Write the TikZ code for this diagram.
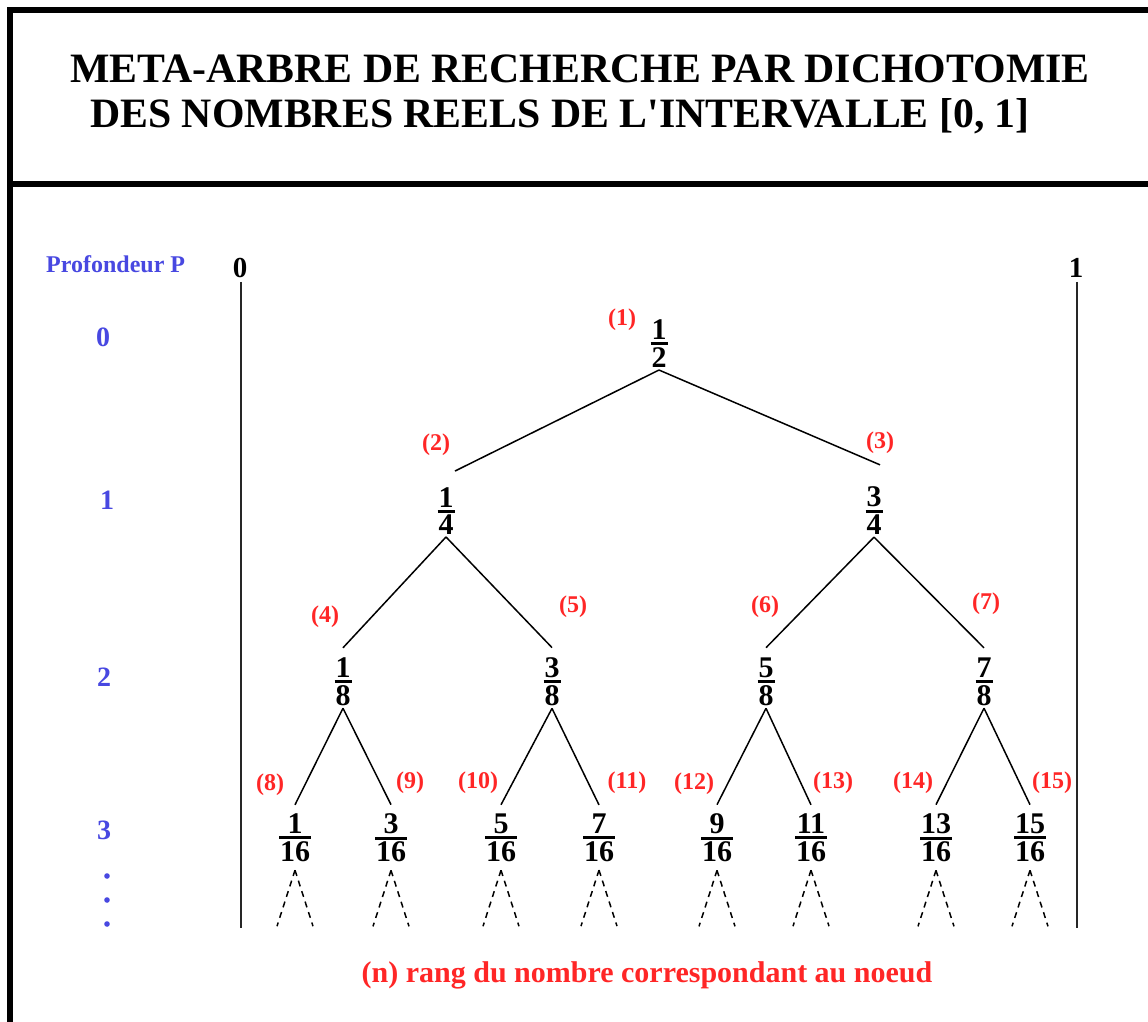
\documentclass[tikz,border=0pt]{standalone}
\usepackage{fontspec}
\setmainfont{Liberation Serif}[Ligatures=TeXOff]
\usetikzlibrary{calc}
\definecolor{lbl}{RGB}{255,38,38}
\definecolor{dep}{RGB}{72,72,225}
\newcommand\myfr[2]{\vbox{\halign{\hfil\kern1pt##\kern1pt\hfil\cr #1\cr\noalign{\kern2.5pt\hrule height 3pt\kern2.5pt}#2\cr}}}
\begin{document}
\begin{tikzpicture}[x=1pt,y=-1pt,
  frac/.style={inner sep=0pt, font=\fontsize{30}{32}\selectfont\bfseries},
  rank/.style={text=lbl, inner sep=0pt, font=\fontsize{24}{26}\selectfont\bfseries},
  depthlbl/.style={text=dep, inner sep=0pt, font=\fontsize{28}{30}\selectfont\bfseries},
  titlefont/.style={anchor=base west, inner sep=0pt, font=\fontsize{41.8}{49}\selectfont\bfseries},
  bound/.style={inner sep=0pt, font=\fontsize{29}{31}\selectfont\bfseries},
  treeedge/.style={line width=1.5pt},
  subedge/.style={line width=1.5pt, dash pattern=on 6pt off 5pt},
  vline/.style={line width=2pt, black!85},
  frameline/.style={line width=6pt}]
\useasboundingbox (0,0) rectangle (1148,1022);
\fill[white] (0,0) rectangle (1148,1022);
% frame
\draw[frameline] (1148,10) -- (10,10) -- (10,1022);
\draw[frameline] (7,184) -- (1148,184);
% title
\node[titlefont] (t1) at (70,83) {META-ARBRE DE RECHERCHE PAR DICHOTOMIE};
\node[titlefont] (t2) at (90,128) {DES NOMBRES REELS DE L'INTERVALLE [0, 1]};
% depth column
\node[depthlbl, anchor=base west, font=\fontsize{24}{26}\selectfont\bfseries] (pp) at (46,272) {Profondeur P};
\node[depthlbl] (d0) at (103,337) {0};
\node[depthlbl] (d1) at (107,500) {1};
\node[depthlbl] (d2) at (104,677) {2};
\node[depthlbl] (d3) at (104,830) {3};
\foreach \yy/\nm in {876/da,900/db,924/dc}
  \fill[dep] (107,\yy) circle (2.8pt) coordinate (\nm);
% interval bounds
\node[bound] (z0) at (240,268) {0};
\node[bound] (z1) at (1076,268) {1};
\coordinate (b0) at (241,928);
\coordinate (b1) at (1077,928);
\draw[vline] ([yshift=-4pt]z0.south -| b0) -- (b0);
\draw[vline] ([yshift=-4pt]z1.south -| b1) -- (b1);
% tree nodes
\node[frac] (n1) at (659,344) {\myfr{1}{2}};
\node[frac] (n2) at (446,511) {\myfr{1}{4}};
\node[frac] (n3) at (874,511) {\myfr{3}{4}};
\node[frac] (n4) at (343,682) {\myfr{1}{8}};
\node[frac] (n5) at (552,682) {\myfr{3}{8}};
\node[frac] (n6) at (766,682) {\myfr{5}{8}};
\node[frac] (n7) at (984,682) {\myfr{7}{8}};
\node[frac] (n8) at (295,838) {\myfr{1}{16}};
\node[frac] (n9) at (391,838) {\myfr{3}{16}};
\node[frac] (n10) at (501,838) {\myfr{5}{16}};
\node[frac] (n11) at (599,838) {\myfr{7}{16}};
\node[frac] (n12) at (717,838) {\myfr{9}{16}};
\node[frac] (n13) at (811,838) {\myfr{11}{16}};
\node[frac] (n14) at (936,838) {\myfr{13}{16}};
\node[frac] (n15) at (1030,838) {\myfr{15}{16}};
% rank labels
\node[rank] (r1) at (622,320) {(1)};
\node[rank] (r2) at (436,445) {(2)};
\node[rank] (r3) at (880,443) {(3)};
\node[rank] (r4) at (325,617) {(4)};
\node[rank] (r5) at (573,607) {(5)};
\node[rank] (r6) at (765,607) {(6)};
\node[rank] (r7) at (986,604) {(7)};
\node[rank] (r8) at (270,785) {(8)};
\node[rank] (r9) at (410,783) {(9)};
\node[rank] (r10) at (478,783) {(10)};
\node[rank] (r11) at (627,783) {(11)};
\node[rank] (r12) at (694,784) {(12)};
\node[rank] (r13) at (833,783) {(13)};
\node[rank] (r14) at (913,783) {(14)};
\node[rank] (r15) at (1052,783) {(15)};
% edges
\draw[treeedge] ([yshift=-2pt]n1.south) -- ([xshift=9pt,yshift=16pt]n2.north);
\draw[treeedge] ([yshift=-2pt]n1.south) -- ([xshift=6pt,yshift=22pt]n3.north);
\foreach \p/\a/\b in {n2/n4/n5, n3/n6/n7}{
  \draw[treeedge] ([yshift=-2pt]\p.south) -- ([yshift=10pt]\a.north);
  \draw[treeedge] ([yshift=-2pt]\p.south) -- ([yshift=10pt]\b.north);
}
\foreach \p/\a/\b in {n4/n8/n9, n5/n10/n11, n6/n12/n13, n7/n14/n15}{
  \draw[treeedge] ([yshift=-2pt]\p.south) -- ([yshift=9pt]\a.north);
  \draw[treeedge] ([yshift=-2pt]\p.south) -- ([yshift=9pt]\b.north);
}
% dashed continuations
\foreach \l in {n8,n9,n10,n11,n12,n13,n14,n15}{
  \draw[subedge] ([yshift=-8pt]\l.south) -- ++(-18,56);
  \draw[subedge] ([yshift=-8pt]\l.south) -- ++(18,56);
}
% legend
\node[text=lbl, inner sep=0pt, anchor=base, font=\fontsize{30}{32}\selectfont\bfseries] (leg) at (647,982) {(n) rang du nombre correspondant au noeud};
\end{tikzpicture}
\end{document}
